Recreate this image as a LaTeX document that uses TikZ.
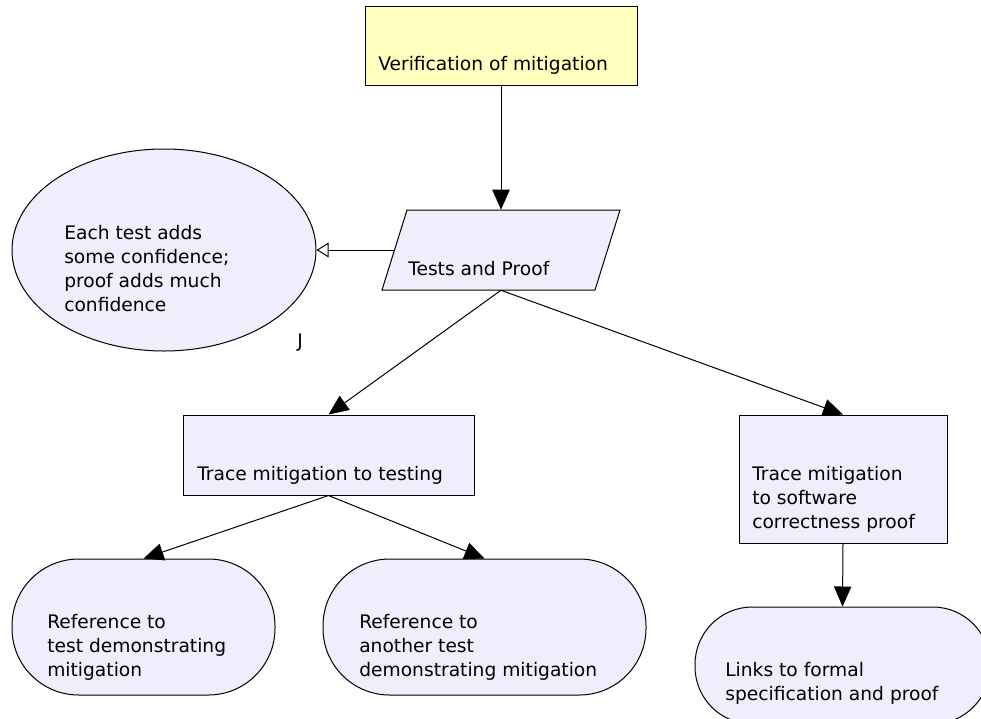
\documentclass[tikz,border=0pt]{standalone}
\usepackage{fontspec}
\setmainfont{DejaVu Sans}
\usetikzlibrary{shapes.geometric,arrows.meta,fit}
\definecolor{boxyellow}{RGB}{255,255,192}
\definecolor{boxlav}{RGB}{238,238,252}
\begin{document}
\begin{tikzpicture}[x=0.75pt,y=-0.75pt,
  every node/.style={inner sep=0pt},
  shapebox/.style={draw=black,line width=0.75pt,fill=boxlav},
  txt/.style={anchor=base west,font=\fontsize{14}{18}\selectfont},
  arr/.style={line width=0.75pt,-{Triangle[length=15pt,width=13pt]}},
  openarr/.style={line width=0.75pt,-{Triangle[open,length=9pt,width=11pt]}}]
\useasboundingbox (0,0) rectangle (981,718);
\clip (0,0) rectangle (981,718);

% boxes
\node[shapebox,fill=boxyellow,fit={(365,6) (637,85)}] (verif) {};
\draw[shapebox] (382,290) -- (407,210) -- (620,210) -- (595,290) -- cycle;
\node[fit={(394.5,210) (607.5,290)}] (tp) {};
\node[shapebox,ellipse,minimum width=228pt,minimum height=151.5pt] (conf) at (164,250) {};
\node[shapebox,fit={(183,415) (474,495)}] (tt) {};
\node[shapebox,fit={(739,415) (947,543)}] (tc) {};
\node[shapebox,rounded corners=50pt,fit={(12,559) (275,695)}] (ref1) {};
\node[shapebox,rounded corners=50pt,fit={(323,559) (646,695)}] (ref2) {};
\node[shapebox,rounded corners=43pt,fit={(695,607) (990,724)}] (links) {};

% texts
\node[txt] (tverif) at (378,70) {Verification of mitigation};
\node[txt] (ttp) at (408,275) {Tests and Proof};
\node[txt] (tconf) at (64,239) {\begin{tabular}[t]{@{}l@{}}Each test adds\\some confidence;\\proof adds much\\confidence\end{tabular}};
\node[txt] (tj) at (297,347) {J};
\node[txt] (ttt) at (197,480) {Trace mitigation to testing};
\node[txt] (ttc) at (752,480) {\begin{tabular}[t]{@{}l@{}}Trace mitigation\\to software\\correctness proof\end{tabular}};
\node[txt] (tref1) at (47,628) {\begin{tabular}[t]{@{}l@{}}Reference to\\test demonstrating\\mitigation\end{tabular}};
\node[txt] (tref2) at (359,628) {\begin{tabular}[t]{@{}l@{}}Reference to\\another test\\demonstrating mitigation\end{tabular}};
\node[txt] (tlinks) at (725,676) {\begin{tabular}[t]{@{}l@{}}Links to formal\\specification and proof\end{tabular}};

% connectors
\draw[arr] (verif.south) -- (tp.north);
\draw[openarr] (tp.west) -- (conf.east);
\draw[arr] (tp.south) -- (tt.north);
\draw[arr] (tp.south) -- (tc.north);
\draw[arr] (tt.south) -- (ref1.north);
\draw[arr] (tt.south) -- (ref2.north);
\draw[arr] (tc.south) -- (links.north);
\end{tikzpicture}
\end{document}
